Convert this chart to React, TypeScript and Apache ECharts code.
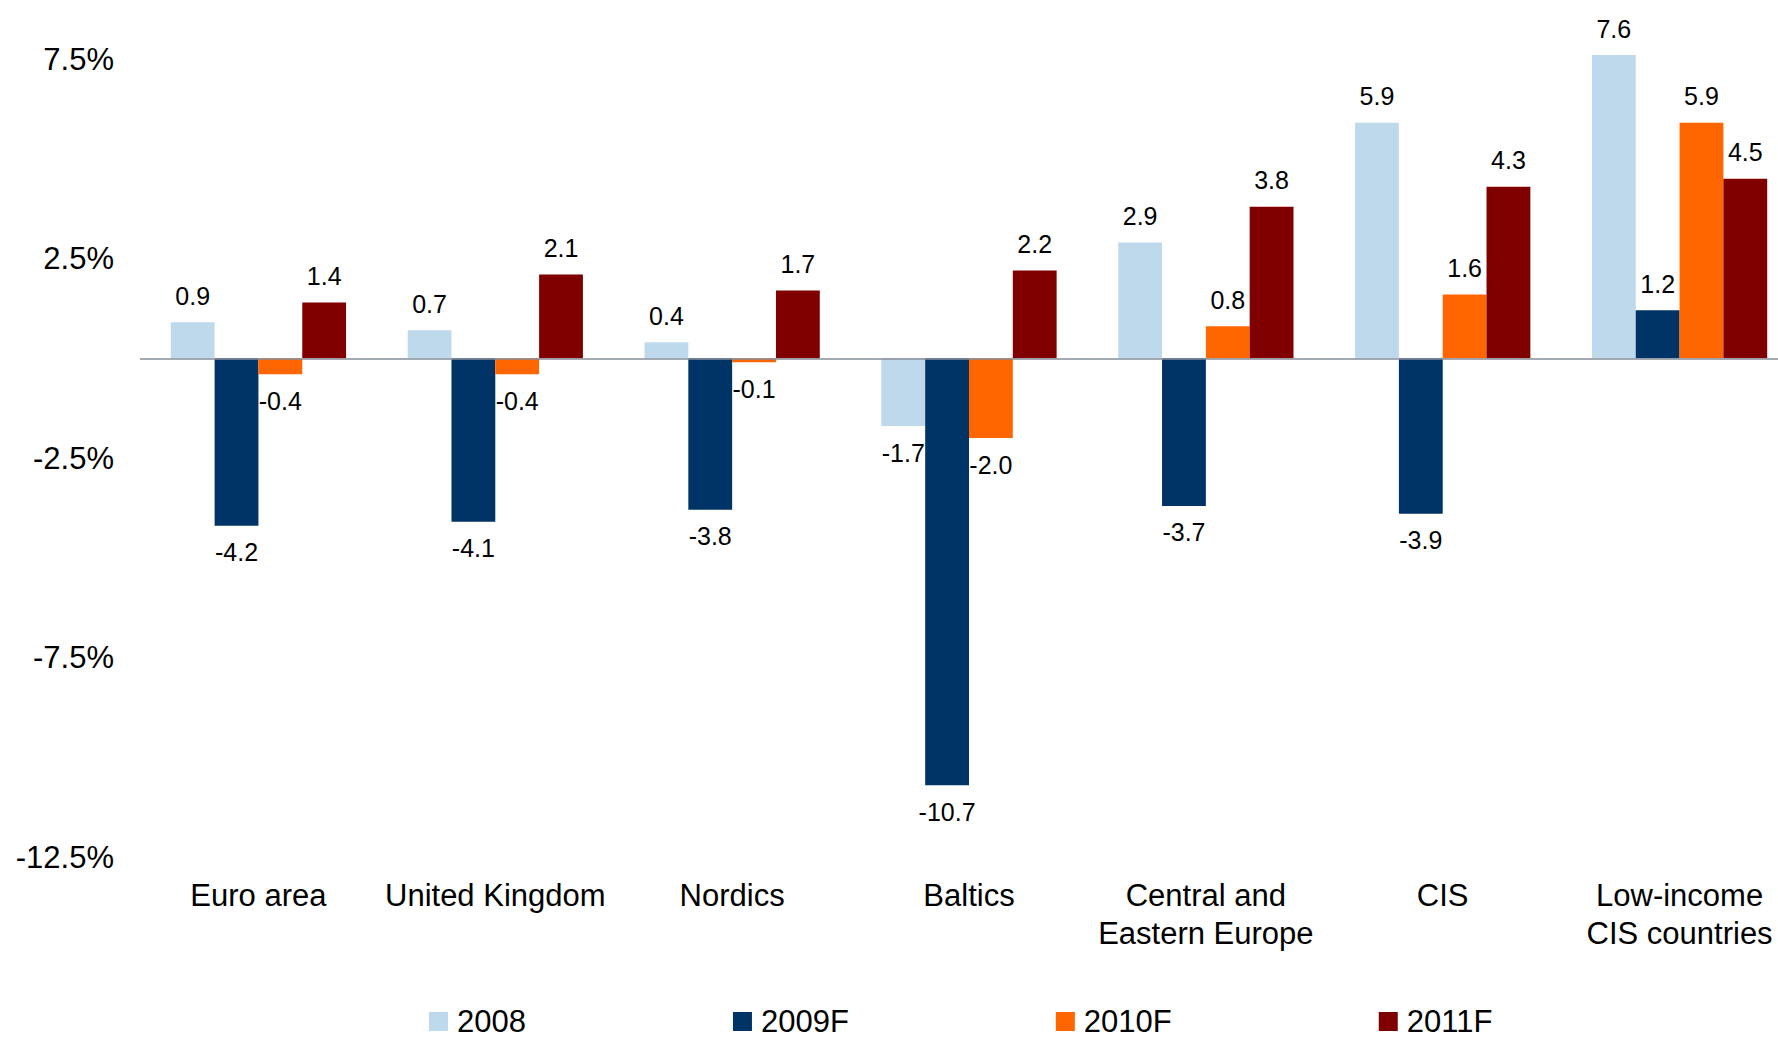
import React, { useEffect, useRef } from "react";
import * as echarts from "echarts";

const categories = [
  "Euro area",
  "United Kingdom",
  "Nordics",
  "Baltics",
  "Central and\nEastern Europe",
  "CIS",
  "Low-income\nCIS countries",
];
const seriesNames = ["2008", "2009F", "2010F", "2011F"];
const values2008 = [0.9, 0.7, 0.4, -1.7, 2.9, 5.9, 7.6];
const values2009F = [-4.2, -4.1, -3.8, -10.7, -3.7, -3.9, 1.2];
const values2010F = [-0.4, -0.4, -0.1, -2.0, 0.8, 1.6, 5.9];
const values2011F = [1.4, 2.1, 1.7, 2.2, 3.8, 4.3, 4.5];
const colors = ["#BFD9EC", "#003366", "#FF6600", "#800000"];

const FONT = "'Liberation Sans', Arial, sans-serif";

export default function App() {
  const ref = useRef<HTMLDivElement>(null);
  useEffect(() => {
    if (!ref.current) return;
    const chart = echarts.init(ref.current, undefined, { renderer: "svg" });
    const all = [values2008, values2009F, values2010F, values2011F];
    const series = all.map((vals, i) => ({
      name: seriesNames[i],
      type: "bar",
      barGap: "0%",
      barCategoryGap: "26%",
      clip: false,
      itemStyle: { color: colors[i] },
      data: vals.map((v) => ({
        value: v,
        label: { position: v < 0 ? "bottom" : "top" },
      })),
      label: {
        show: true,
        distance: 14,
        fontSize: 25,
        fontFamily: FONT,
        color: "#000",
        formatter: (p: any) => Number(p.value).toFixed(1),
      },
      ...(i === 0
        ? {
            markLine: {
              silent: true,
              symbol: ["none", "none"],
              label: { show: false },
              lineStyle: { color: "#868E99", width: 1.5, type: "solid" },
              data: [{ yAxis: 0 }],
            },
          }
        : {}),
    }));
    chart.setOption({
      animation: false,
      backgroundColor: "#ffffff",
      textStyle: { fontFamily: FONT },
      grid: {
        left: 140,
        width: 1658,
        top: 59,
        height: 798,
        containLabel: false,
        outerBoundsMode: "none",
      },
      legend: {
        data: seriesNames,
        left: 429,
        top: 1006,
        padding: 0,
        itemWidth: 19,
        itemHeight: 19,
        itemGap: 207,
        icon: "rect",
        textStyle: {
          fontSize: 31,
          fontFamily: FONT,
          color: "#000",
          lineHeight: 30,
          padding: [0, 0, 0, 4],
        },
      },
      xAxis: {
        type: "category",
        data: categories,
        position: "bottom",
        axisLine: { show: false, onZero: false },
        axisTick: { show: false },
        splitLine: { show: false },
        axisLabel: {
          interval: 0,
          margin: 19,
          fontSize: 31,
          lineHeight: 38,
          fontFamily: FONT,
          color: "#000",
        },
      },
      yAxis: {
        type: "value",
        min: -12.5,
        max: 7.5,
        interval: 5,
        axisLine: { show: false },
        axisTick: { show: false },
        splitLine: { show: false },
        axisLabel: {
          margin: 26,
          fontSize: 31,
          fontFamily: FONT,
          color: "#000",
          formatter: (v: number) => v.toFixed(1) + "%",
        },
      },
      series,
    });
    return () => chart.dispose();
  }, []);
  return (
    <div
      ref={ref}
      style={{ position: "fixed", left: 0, top: 0, width: 1778, height: 1039 }}
    />
  );
}
